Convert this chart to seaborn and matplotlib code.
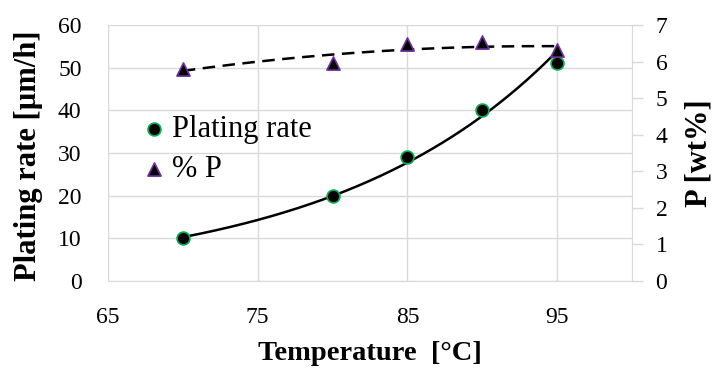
import numpy as np
import pandas as pd
import matplotlib
matplotlib.use("Agg")
import matplotlib.pyplot as plt
import seaborn as sns

# Measured data
temperature = [70, 80, 85, 90, 95]
plating_rate = [10, 20, 29, 40, 51]
p_content = [5.80, 5.96, 6.47, 6.54, 6.32]

x_ticks = [65, 75, 85, 95]
left_ticks = [0, 10, 20, 30, 40, 50, 60]
right_ticks = [0, 1, 2, 3, 4, 5, 6, 7]

sns.set_style("white")
plt.rcParams["font.family"] = ["Liberation Serif", "DejaVu Serif"]
plt.rcParams["text.color"] = "black"
plt.rcParams["axes.labelcolor"] = "black"

df = pd.DataFrame({"T": temperature, "rate": plating_rate, "P": p_content})

# Trendlines: exponential for the rate, 2nd-order polynomial for P
b, ln_a = np.polyfit(df["T"], np.log(df["rate"]), 1)
t_fit = np.linspace(min(temperature), max(temperature), 200)
rate_fit = np.exp(ln_a + b * t_fit)
p_coef = np.polyfit(df["T"], df["P"], 2)
p_fit = np.polyval(p_coef, t_fit)
fit_df = pd.DataFrame({"T": t_fit, "rate": rate_fit, "P": p_fit})

fig = plt.figure(figsize=(7.12, 3.76), dpi=100)
ax = fig.add_axes([0.1517, 0.2527, 0.7359, 0.6808])
ax2 = ax.twinx()

grid_c = "#D9D9D9"
ax.set_xlim(65, 100)
ax.set_ylim(0, 60)
ax2.set_ylim(0, 7)
ax.set_xticks(x_ticks)
ax.set_yticks(left_ticks)
ax2.set_yticks(right_ticks)
ax.grid(True, color=grid_c, linewidth=1.0)
ax.set_axisbelow(True)

sns.lineplot(data=fit_df, x="T", y="rate", ax=ax, color="black", linewidth=1.8)
sns.lineplot(data=fit_df, x="T", y="P", ax=ax2, color="black", linewidth=1.8,
             linestyle=(0, (5, 3)))
sns.scatterplot(data=df, x="T", y="rate", ax=ax, marker="o", s=85, color="black",
                edgecolor="#00B050", linewidth=1.2, label="Plating rate", zorder=5)
sns.scatterplot(data=df, x="T", y="P", ax=ax2, marker="^", s=90, color="black",
                edgecolor="#7030A0", linewidth=1.2, label="% P", zorder=5)

for a in (ax, ax2):
    for s in a.spines.values():
        s.set_visible(False)
ax.spines["bottom"].set_visible(True)
ax.spines["bottom"].set_color(grid_c)
ax2.spines["right"].set_visible(True)
ax2.spines["right"].set_color(grid_c)

tick_fs = 17
ax.tick_params(axis="x", length=0, pad=19, labelsize=tick_fs, labelcolor="black")
ax.tick_params(axis="y", length=0, pad=19, labelsize=tick_fs, labelcolor="black")
ax2.tick_params(axis="y", length=8, width=1, color=grid_c, pad=9,
                labelsize=tick_fs, labelcolor="black")

ax.set_xlabel("Temperature  [°C]", fontsize=20.5, fontweight="bold", labelpad=9)
ax.set_ylabel("Plating rate [µm/h]", fontsize=22, fontweight="bold")
ax.yaxis.set_label_coords(-0.124, 0.49)
ax2.set_ylabel("P [wt%]", fontsize=22, fontweight="bold", labelpad=12)

h1, l1 = ax.get_legend_handles_labels()
h2, l2 = ax2.get_legend_handles_labels()
for a in (ax, ax2):
    if a.get_legend():
        a.get_legend().remove()
ax.legend(h1 + h2, l1 + l2, loc="upper left", bbox_to_anchor=(0.064, 0.649),
          borderaxespad=0, borderpad=0, frameon=False, fontsize=22,
          handlelength=0.8, handletextpad=0.2, labelspacing=0.36,
          markerscale=1.0)

fig.savefig("out.png", dpi=100)
